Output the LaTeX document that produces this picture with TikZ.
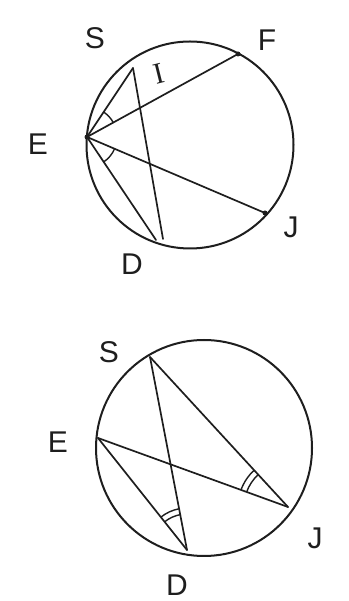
\documentclass[tikz,border=0pt]{standalone}
\usepackage{fontspec}
\setmainfont{Liberation Sans}
\newfontfamily\serifI{Liberation Serif}
\usetikzlibrary{angles}
\definecolor{ink}{HTML}{1E1E1E}
\begin{document}
\begin{tikzpicture}[x=1pt,y=1pt,
  pen/.style={draw=ink,line width=1.7pt,line cap=round},
  rim/.style={draw=ink,line width=2.0pt},
  lbl/.style={text=ink,font=\fontsize{30}{30}\selectfont,inner sep=0pt},
  dotmark/.style={circle,fill=ink,inner sep=0pt,minimum size=5pt},
  ang/.style={draw=ink,line width=1.4pt}]
\useasboundingbox (0,0) rectangle (348,601);
% ---------- top figure ----------
\coordinate (C1) at (190,456);
\draw[rim] (C1) circle[radius=103.5pt];
\coordinate (E1) at (87,464);
\coordinate (S1) at (133,533);
\coordinate (F1) at (238,547);
\coordinate (J1) at (265,388);
\coordinate (Da) at (156,361);
\coordinate (Db) at (163,362);
\draw[pen] (E1) -- (S1);
\draw[pen] (S1) -- (Db);
\draw[pen] (E1) -- (F1);
\draw[pen] (E1) -- (Da);
\draw[pen] (E1) -- (J1);
\node[dotmark] at (E1) {};
\node[dotmark] at (F1) {};
\node[dotmark] at (J1) {};
\pic[ang,angle radius=30pt] {angle=F1--E1--S1};
\pic[ang,angle radius=30pt] {angle=Da--E1--J1};
\node[lbl] (lS1) at (95,563) {S};
\node[lbl] (lF1) at (267,561) {F};
\node[lbl,rotate=14] (lI1) at (159,527) {\serifI\fontsize{30}{30}\selectfont I};
\node[lbl] (lE1) at (38,457) {E};
\node[lbl] (lJ1) at (291,374) {J};
\node[lbl] (lD1) at (132,337) {D};
% ---------- bottom figure ----------
\coordinate (C2) at (204,153);
\draw[rim] (C2) circle[radius=108pt];
\coordinate (S2) at (150,244);
\coordinate (E2) at (98,163);
\coordinate (D2) at (187,51);
\coordinate (J2) at (288,94);
\draw[pen] (S2) -- (D2);
\draw[pen] (S2) -- (J2);
\draw[pen] (E2) -- (D2);
\draw[pen] (E2) -- (J2);
\pic[ang,angle radius=36pt] {angle=S2--D2--E2};
\pic[ang,angle radius=42pt] {angle=S2--D2--E2};
\pic[ang,angle radius=44pt] {angle=S2--J2--E2};
\pic[ang,angle radius=50pt] {angle=S2--J2--E2};
\node[lbl] (lS2) at (109,249) {S};
\node[lbl] (lE2) at (58,159) {E};
\node[lbl] (lJ2) at (315,63) {J};
\node[lbl] (lD2) at (177,16) {D};
\end{tikzpicture}
\end{document}
